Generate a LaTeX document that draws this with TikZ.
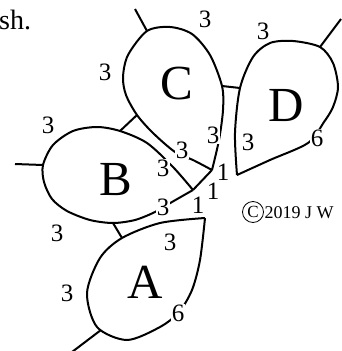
\documentclass[tikz,border=0pt]{standalone}
\usepackage{fontspec}
\setmainfont{Liberation Serif}
\begin{document}
\begin{tikzpicture}[x=1pt,y=-1pt,
  edge/.style={line width=2pt, line join=round},
  lbl/.style={font=\fontsize{25}{25}\selectfont, inner sep=0.5pt, fill=white},
  big/.style={font=\fontsize{49}{49}\selectfont, inner sep=0pt}]
\useasboundingbox (0,0) rectangle (341,351);
% junctions
\coordinate (TA) at (205,218);
\coordinate (J2) at (193,190);
\coordinate (J1) at (212,170);
\coordinate (TD) at (237,175);
\coordinate (AB1) at (122,238);
\coordinate (AB2) at (113,223);
\coordinate (BC1) at (120,131);
\coordinate (BC2) at (137,115);
\coordinate (CD1) at (222,86);
\coordinate (CD2) at (240,88);
\coordinate (As) at (101,330);
\coordinate (Ae) at (72,352);
\coordinate (Bs) at (43,165);
\coordinate (Be) at (15,164);
\coordinate (Cs) at (147,31);
\coordinate (Ce) at (135,9);
\coordinate (Ds) at (320,47);
\coordinate (De) at (341,19);
% leaves
\draw[edge] plot[smooth] coordinates {(205,218) (160,223) (122,238) (100,258) (87,293) (97,327) (127,340) (160,327) (179,312) (192,290) (200,260) (205,218)};
\draw[edge] plot[smooth] coordinates {(193,190) (173,167) (147,143) (120,131) (97,127) (73,131) (53,145) (43,165) (44,182) (52,199) (67,211) (90,220) (113,223) (135,220) (155,212) (172,202) (193,190)};
\draw[edge] plot[smooth] coordinates {(212,170) (193,160) (175,152) (153,133) (137,115) (126,95) (123,77) (128,55) (147,31) (170,27) (192,34) (210,55) (222,86) (223,110) (219,140) (212,170)};
\draw[edge] plot[smooth] coordinates {(237,175) (235,133) (240,88) (253,57) (270,43) (293,41) (320,47) (333,63) (338,87) (333,107) (324,122) (308,143) (270,160) (237,175)};
% connectors
\draw[edge] (AB1) -- (AB2);
\draw[edge] (BC1) -- (BC2);
\draw[edge] (CD1) -- (CD2);
\draw[edge] (J1) -- (J2);
\draw[edge] (As) -- (Ae);
\draw[edge] (Bs) -- (Be);
\draw[edge] (Cs) -- (Ce);
\draw[edge] (Ds) -- (De);
% big letters
\node[big] (A) at (145,282) {A};
\node[big] (B) at (116,180) {B};
\node[big] (C) at (177,84) {C};
\node[big] (D) at (286,106) {D};
% labels
\node[lbl] (l1) at (205,19) {3};
\node[lbl] (l2) at (263,31) {3};
\node[lbl] (l3) at (105,72) {3};
\node[lbl] (l4) at (48,125) {3};
\node[lbl] (l5) at (213,135) {3};
\node[lbl] (l6) at (248,142) {3};
\node[lbl] (l7) at (317,138) {6};
\node[lbl] (l8) at (182,150) {3};
\node[lbl] (l9) at (163,168) {3};
\node[lbl] (l10) at (223,172) {1};
\node[lbl] (l11) at (213,191) {1};
\node[lbl] (l12) at (163,207) {3};
\node[lbl] (l13) at (198,205) {1};
\node[lbl] (l14) at (57,233) {3};
\node[lbl] (l15) at (170,242) {3};
\node[lbl] (l16) at (67,293) {3};
\node[lbl] (l17) at (178,313) {6};
% text
\node[anchor=base west, inner sep=0pt, font=\fontsize{28}{28}\selectfont] (sh) at (-1,29) {sh.};
\node[circle, draw, line width=0.8pt, minimum size=21pt, inner sep=0pt, font=\fontsize{17}{17}\selectfont] (copy) at (253,212) {C};
\node[anchor=base west, inner sep=0pt, font=\fontsize{18}{18}\selectfont] (year) at (264.5,218.5) {2019 J W};
\end{tikzpicture}
\end{document}
